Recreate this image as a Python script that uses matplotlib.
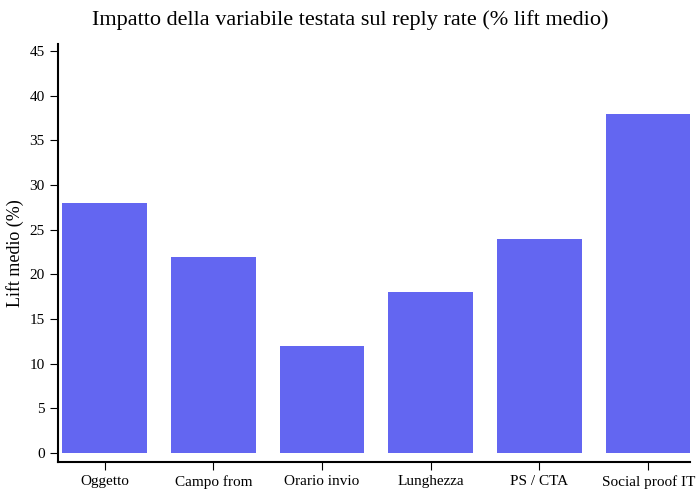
import matplotlib.pyplot as plt

categories = ["Oggetto", "Campo from", "Orario invio", "Lunghezza", "PS / CTA", "Social proof IT"]
lift = [28, 22, 12, 18, 24, 38]
yticks = list(range(0, 50, 5))

plt.rcParams['font.family'] = ['Liberation Serif', 'DejaVu Serif']

fig = plt.figure(figsize=(7, 5), dpi=100)
ax = fig.add_axes([0.083, 0.076, 0.903, 0.836])
ax.bar(range(len(categories)), lift, width=0.78, color="#6366f1")

ax.set_xlim(-0.427, 5.386)
ax.set_ylim(-1, 45.8)
ax.set_xticks(range(len(categories)))
ax.set_xticklabels(categories, fontsize=11)
ax.set_yticks(yticks)
ax.tick_params(axis='y', labelsize=11, length=6)
ax.tick_params(axis='x', length=6)
ax.set_ylabel("Lift medio (%)", fontsize=13)
for s in ["top", "right"]:
    ax.spines[s].set_visible(False)
ax.spines["left"].set_linewidth(1.5)
ax.spines["bottom"].set_linewidth(1.5)

fig.text(0.5, 0.96, "Impatto della variabile testata sul reply rate (% lift medio)",
         ha="center", va="center", fontsize=16)

plt.savefig("out.png", dpi=100)
